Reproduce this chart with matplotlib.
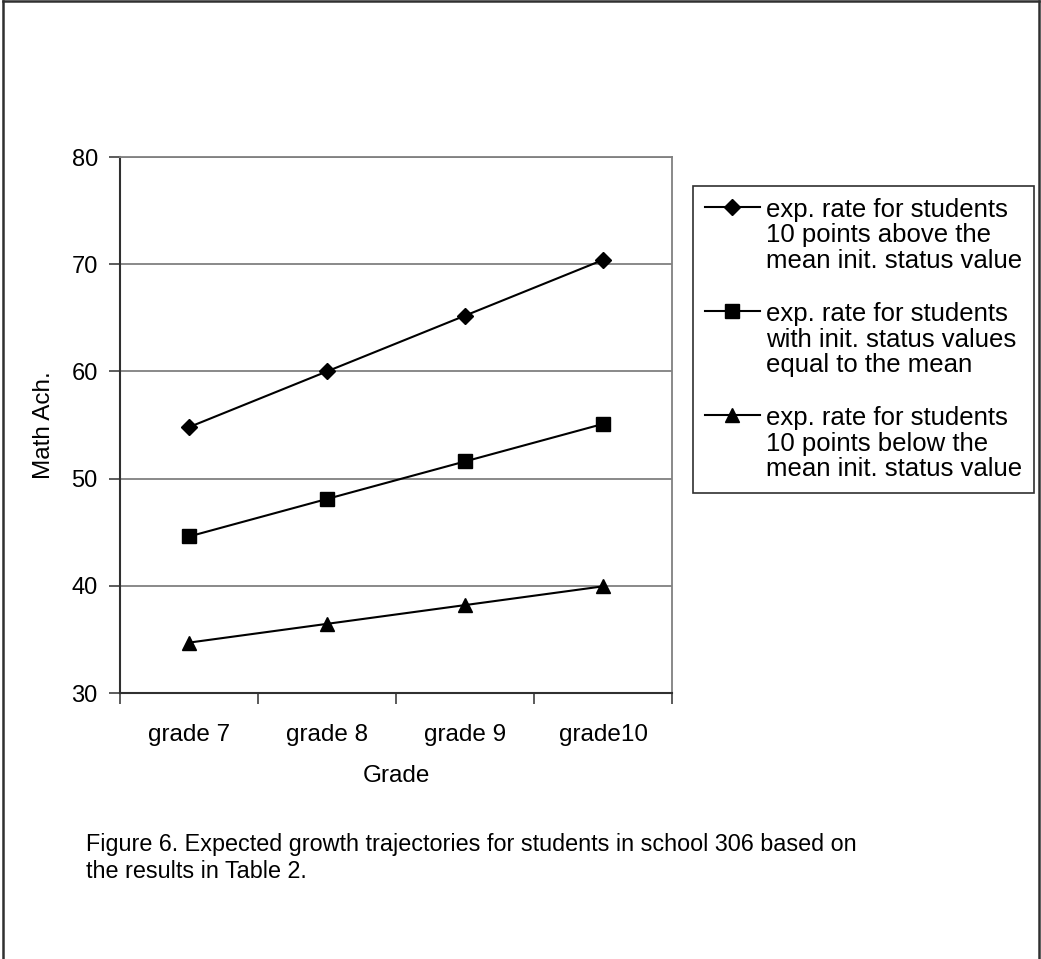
import matplotlib
matplotlib.use("Agg")
import matplotlib.pyplot as plt
from matplotlib.lines import Line2D

plt.rcParams["font.family"] = ["Liberation Sans", "DejaVu Sans"]

# -- data --
grades = ["grade 7", "grade 8", "grade 9", "grade10"]
above_mean = [54.8, 60.0, 65.2, 70.4]
at_mean = [44.6, 48.1, 51.6, 55.1]
below_mean = [34.7, 36.45, 38.2, 39.95]
series_labels = [
    "exp. rate for students\n10 points above the\nmean init. status value",
    "exp. rate for students\nwith init. status values\nequal to the mean",
    "exp. rate for students\n10 points below the\nmean init. status value",
]
y_ticks = [30, 40, 50, 60, 70, 80]
caption = ("Figure 6. Expected growth trajectories for students in school 306 based on\n"
           "the results in Table 2.")

W, H = 1041, 959
fig = plt.figure(figsize=(W / 100, H / 100), dpi=100)
fig.patch.set_facecolor("white")

ax = fig.add_axes([120 / W, 1 - 693 / H, 552 / W, 536 / H])
x = list(range(len(grades)))

ax.plot(x, above_mean, color="black", lw=1.5, marker="D", ms=8.5,
        label=series_labels[0], zorder=3)
ax.plot(x, at_mean, color="black", lw=1.5, marker="s", ms=9.5,
        label=series_labels[1], zorder=3)
ax.plot(x, below_mean, color="black", lw=1.5, marker="^", ms=10,
        label=series_labels[2], zorder=3)

ax.set_xlim(-0.5, len(grades) - 0.5)
ax.set_ylim(30, 80)
ax.set_yticks(y_ticks)
ax.yaxis.grid(True, color="#808080", lw=1.3)
ax.set_axisbelow(True)

# category labels centred, tick marks on the boundaries
ax.set_xticks(x)
ax.set_xticklabels(grades, fontsize=17.5)
ax.set_xticks([i - 0.5 for i in range(len(grades) + 1)], minor=True)
ax.tick_params(axis="x", which="major", length=0, pad=22.5)
ax.tick_params(axis="x", which="minor", length=8, width=1.2, color="#404040")
ax.tick_params(axis="y", length=8, width=1.2, color="#404040", labelsize=17, pad=8)

for side in ("left", "bottom"):
    ax.spines[side].set_color("#303030")
    ax.spines[side].set_linewidth(1.5)
for side in ("top", "right"):
    ax.spines[side].set_color("#808080")
    ax.spines[side].set_linewidth(1.3)

ax.set_xlabel("Grade", fontsize=17.5, va="center")
ax.xaxis.set_label_coords(0.5, -(776 - 693) / 536)
ax.set_ylabel("Math Ach.", fontsize=17.5, va="center")
ax.yaxis.set_label_coords(-(120 - 44) / 552, 0.5)

leg = ax.legend(loc="upper left", bbox_to_anchor=(693 / W, 1 - 186 / H),
                bbox_transform=fig.transFigure, fontsize=18.5, frameon=True,
                fancybox=False, framealpha=1, edgecolor="#303030",
                handlelength=2.15, handletextpad=0.25, labelspacing=1.1,
                borderpad=0.45, borderaxespad=0)
leg.get_frame().set_linewidth(1.2)
for t in leg.get_texts():
    t.set_linespacing(1.1)
# put each handle level with the first line of its label
for column in leg._legend_handle_box.get_children():
    for row in column.get_children():
        row.align = "top"

fig.text(86 / W, 1 - 858 / H, caption, fontsize=16.8, ha="left", va="center",
         linespacing=1.2)

# page frame
for xs, ys in [((3 / W, 3 / W), (0, 1 - 1 / H)),
               ((3 / W, 1039 / W), (1 - 1 / H, 1 - 1 / H)),
               ((1039 / W, 1039 / W), (0, 1 - 1 / H))]:
    fig.add_artist(Line2D(xs, ys, transform=fig.transFigure,
                          color="#303030", lw=1.8))

fig.savefig("out.png", dpi=100)
